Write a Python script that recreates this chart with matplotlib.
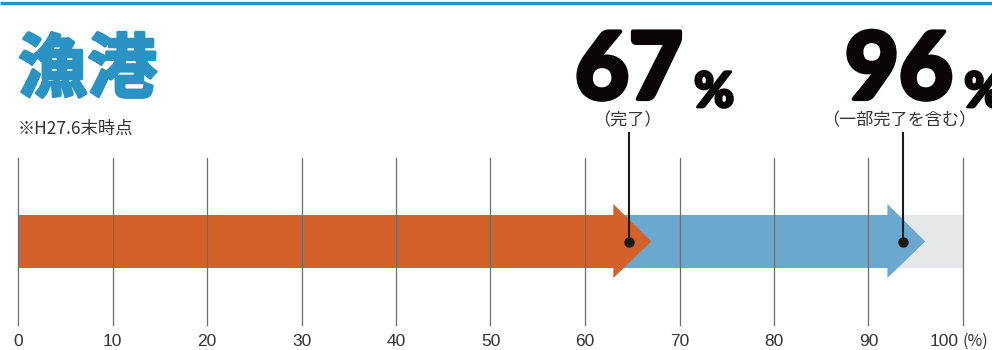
import matplotlib
matplotlib.use('Agg')
import matplotlib.pyplot as plt
from matplotlib.patches import Polygon, Rectangle
import matplotlib.patheffects as pe

plt.rcParams['font.family'] = ['Noto Sans CJK JP', 'DejaVu Sans']

# 整備率（%）
title = '漁港'
note = '※H27.6末時点'
completed = 67        # 完了
partial = 96          # 一部完了を含む
labels = ['（完了）', '（一部完了を含む）']
ticks = list(range(0, 101, 10))

ORANGE = '#d2622a'
BLUE = '#6aa8cf'
GRAY = '#e6e7e8'
TITLE_BLUE = '#2a93c4'
INK = '#0a0606'

fig = plt.figure(figsize=(9.92, 3.5), dpi=100)
ax = fig.add_axes([0, 0, 1, 1])
# x: 0% -> 18px, 100% -> 963px / y: pixel rows from top
px_per = 9.45
ax.set_xlim(-18 / px_per, (992 - 18) / px_per)
ax.set_ylim(350, 0)
ax.axis('off')

# 上の青い罫線
ax.plot(ax.get_xlim(), [3, 3], color=TITLE_BLUE, lw=2.4, solid_capstyle='butt')

bar_top, bar_bot = 215, 268
head_top, head_bot = 204, 278
head_len = 4.0
mid = (bar_top + bar_bot) / 2

# 背景（100%まで）
ax.add_patch(Rectangle((0, bar_top), 100, bar_bot - bar_top, color=GRAY, lw=0, zorder=1))


def arrow(value, start, color, z):
    base = value - head_len
    pts = [(start, bar_top), (base, bar_top), (base, head_top), (value, mid),
           (base, head_bot), (base, bar_bot), (start, bar_bot)]
    ax.add_patch(Polygon(pts, closed=True, color=color, lw=0, zorder=z))


arrow(partial, completed - head_len, BLUE, 2)
arrow(completed, 0, ORANGE, 3)

# 目盛り線
tick_font = ['Liberation Sans', 'DejaVu Sans']
for t in ticks:
    ax.plot([t, t], [158, 325], color='#6e6e6e', lw=0.9, zorder=4)
    if t == 100:
        ax.text(t - 0.5, 341, str(t), ha='right', va='center', fontsize=12.5,
                color='#333333', family=tick_font)
    else:
        ax.text(t, 341, str(t), ha='center', va='center', fontsize=12.5,
                color='#333333', family=tick_font)
ax.text(100, 341, '(%)', ha='left', va='center', fontsize=11.5, color='#333333')

# 引き出し線と点
for v in (completed, partial):
    x = v - 2.3
    ax.plot([x, x], [133, mid], color='#1a1a1a', lw=1.5, zorder=5)
    ax.plot(x, mid, 'o', color='#1a1a1a', ms=6.5, zorder=6)

# タイトル
ax.text(0, 71, title, ha='left', va='center', fontsize=50, fontweight='bold',
        color=TITLE_BLUE,
        path_effects=[pe.withStroke(linewidth=2.2, foreground=TITLE_BLUE)])
ax.text(0, 129, note, ha='left', va='center', fontsize=12.5, color='#333333')

# 大きな数値
num_font = ['Lato', 'DejaVu Sans']
thick = [pe.withStroke(linewidth=3, foreground=INK)]
for v, xnum in ((completed, 575), (partial, 845)):
    xd = (xnum - 18) / px_per
    t = ax.text(xd, 99, str(v), ha='left', va='baseline', fontsize=67,
                fontweight='black', color=INK, family=num_font, path_effects=thick)
    ax.annotate('%', xy=(1, 0), xycoords=t, xytext=(8, 0), textcoords='offset points',
                ha='left', va='bottom', fontsize=35, fontweight='black',
                color=INK, family=num_font,
                path_effects=[pe.withStroke(linewidth=2, foreground=INK)])
ax.text(64.5, 120, labels[0], ha='center', va='center', fontsize=12.3, color='#333333')
ax.text(93.3, 120, labels[1], ha='center', va='center', fontsize=12.3, color='#333333')

fig.savefig('out.png', dpi=100)
